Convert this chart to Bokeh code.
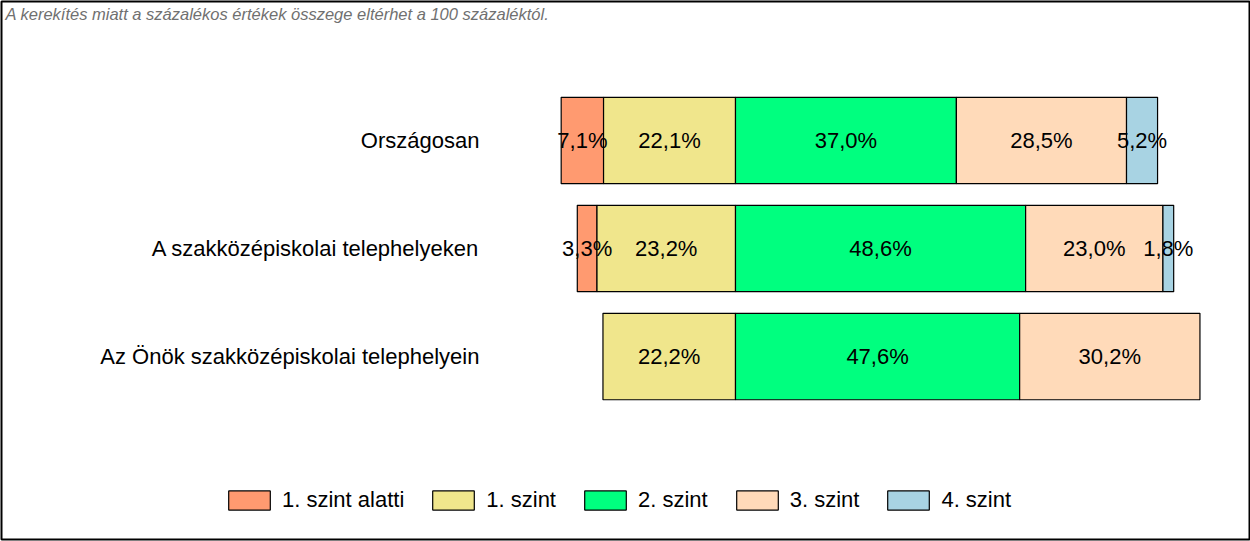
from bokeh.plotting import figure
from bokeh.models import Range1d, Legend, LegendItem, Label, ColumnDataSource
from bokeh.core.properties import value
from bokeh.embed import file_html
from bokeh.resources import INLINE

categories = ["Országosan", "A szakközépiskolai telephelyeken", "Az Önök szakközépiskolai telephelyein"]
levels = ["1. szint alatti", "1. szint", "2. szint", "3. szint", "4. szint"]
below1 = [7.1, 3.3, 0.0]
level1 = [22.1, 23.2, 22.2]
level2 = [37.0, 48.6, 47.6]
level3 = [28.5, 23.0, 30.2]
level4 = [5.2, 1.8, 0.0]
colors = ["#FF9A70", "#F0E68C", "#00FF7F", "#FFDAB9", "#A8D3E3"]
note = "A kerekítés miatt a  százalékos értékek összege eltérhet a 100 százaléktól."

FONT = "Liberation Sans"
FS = "22px"

p = figure(width=1250, height=541, output_backend="svg", toolbar_location=None,
           x_range=Range1d(-122.95, 86.10), y_range=Range1d(3.694, -1.287),
           min_border_left=1, min_border_right=1, min_border_top=1, min_border_bottom=2)
p.axis.visible = False
p.xgrid.visible = False
p.ygrid.visible = False
p.outline_line_color = "black"
p.outline_line_width = 2
p.background_fill_color = "white"
p.border_fill_color = "white"

series = [below1, level1, level2, level3, level4]
rows = list(range(len(categories)))

# segment extents: levels below 2 extend left of zero, others to the right
lefts, rights = [], []
for i in rows:
    l1 = level1[i]; l0 = below1[i]
    r2 = level2[i]; r3 = level3[i]; r4 = level4[i]
    lefts.append([-(l0 + l1), -l1, 0.0, r2, r2 + r3])
    rights.append([-l1, 0.0, r2, r2 + r3, r2 + r3 + r4])

legend_items = []
txt_x, txt_y, txt_s = [], [], []
for k, name in enumerate(levels):
    ys, ls, rs = [], [], []
    for i in rows:
        v = series[k][i]
        if v <= 0:
            continue
        ys.append(i); ls.append(lefts[i][k]); rs.append(rights[i][k])
        txt_x.append((lefts[i][k] + rights[i][k]) / 2)
        txt_y.append(i)
        txt_s.append(f"{v:.1f}%".replace(".", ","))
    src = ColumnDataSource(dict(y=ys, left=ls, right=rs))
    r = p.hbar(y="y", left="left", right="right", height=0.8, source=src,
               fill_color=colors[k], line_color="black", line_width=1.2)
    legend_items.append(LegendItem(label=name, renderers=[r]))

p.text(x=txt_x, y=txt_y, text=txt_s, text_align="center", text_baseline="middle",
       text_font=value(FONT), text_font_size=FS, text_color="black")

lab_x = -42.9
p.text(x=[lab_x] * len(categories), y=rows, text=categories, text_align="right",
       text_baseline="middle", text_font=value(FONT), text_font_size=FS, text_color="black")

legend = Legend(items=legend_items, orientation="horizontal", location=(222, 26),
                glyph_width=52, glyph_height=24, label_standoff=7, spacing=23,
                padding=0, margin=0, border_line_color=None, background_fill_alpha=0,
                label_text_font=FONT, label_text_font_size=FS, label_text_color="black",
                label_height=24)
p.add_layout(legend, "center")

p.add_layout(Label(x=4, y=535, x_units="screen", y_units="screen", text=note,
                   text_font=FONT, text_font_style="italic", text_font_size="16.5px",
                   text_color="#707070", text_baseline="top"))

open("out.html", "w").write(file_html(p, INLINE))
